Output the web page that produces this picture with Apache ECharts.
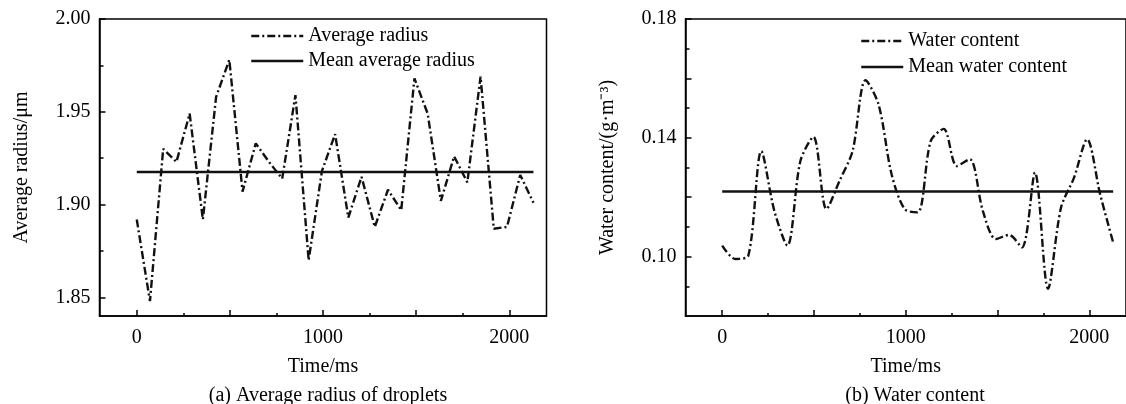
<!DOCTYPE html>
<html>
<head>
<meta charset="utf-8">
<script src="https://cdn.jsdelivr.net/npm/echarts@6/dist/echarts.min.js"></script>
<style>
  html, body { margin: 0; padding: 0; background: #fff; }
  #chart { width: 1126px; height: 404px; }
</style>
</head>
<body>
<div id="chart"></div>
<script>
  // sample times (ms), shared by both panels
  var timeMs = [0, 71, 142, 213, 284, 355, 426, 497, 568, 639, 710, 781, 852, 923, 994, 1065,
    1136, 1207, 1278, 1349, 1420, 1491, 1562, 1633, 1704, 1775, 1846, 1917, 1988, 2059, 2130];

  // (a) average radius, um
  var radius = [1.892, 1.848, 1.930, 1.923, 1.949, 1.892, 1.958, 1.978, 1.907, 1.933, 1.923, 1.914,
    1.959, 1.870, 1.918, 1.938, 1.893, 1.915, 1.888, 1.908, 1.897, 1.968, 1.949, 1.902, 1.926,
    1.912, 1.969, 1.887, 1.888, 1.916, 1.901];
  var meanRadius = 1.9176;

  // (b) water content, g/m3
  var water = [0.1037, 0.0992, 0.1003, 0.1355, 0.1154, 0.1037, 0.1322, 0.1403, 0.1160, 0.1255,
    0.1355, 0.1594, 0.1512, 0.1277, 0.1160, 0.1149, 0.1389, 0.1430, 0.1305, 0.1328, 0.1154,
    0.1059, 0.1073, 0.1031, 0.1283, 0.0892, 0.1165, 0.1266, 0.1395, 0.1210, 0.1048];
  var meanWater = 0.1219;
  var meanSpan = [0, 2130];

  // tick labels
  var xLabels = ['0', '1000', '2000'];
  var xMajorTicks = [0, 500, 1000, 1500, 2000];
  var xMinorTicks = [250, 750, 1250, 1750];
  var yLabelsA = ['1.85', '1.90', '1.95', '2.00'];
  var yMinorA = [1.875, 1.925, 1.975];
  var yLabelsB = ['0.10', '0.14', '0.18'];
  var yMajorB = [0.10, 0.12, 0.14, 0.16, 0.18];
  var yMinorB = [0.09, 0.11, 0.13, 0.15, 0.17];

  var FONT = 'Liberation Serif';
  var txt = { fontFamily: FONT, fontSize: 20, color: '#000' };

  function pairs(xs, ys) {
    return xs.map(function (x, i) { return [x, ys[i]]; });
  }
  function flat(y) {
    return meanSpan.map(function (x) { return [x, y]; });
  }

  function mainX(g) {
    return {
      type: 'value', gridIndex: g, position: 'bottom', min: -200, max: 2200,
      name: 'Time/ms', nameLocation: 'middle', nameGap: 41, nameTextStyle: txt,
      axisLine: { show: true, onZero: false, lineStyle: { color: '#000', width: 1.5 } },
      axisTick: { show: true, inside: true, length: 6, customValues: xMajorTicks, lineStyle: { color: '#000', width: 1.5 } },
      axisLabel: {
        customValues: xLabels.map(Number), margin: 12, fontFamily: FONT, fontSize: 20, color: '#000',
        formatter: function (v) { return String(v); }
      },
      splitLine: { show: false }
    };
  }
  function minorX(g) {
    return {
      type: 'value', gridIndex: g, position: 'bottom', min: -200, max: 2200,
      axisLine: { show: false, onZero: false },
      axisTick: { show: true, inside: true, length: 3, customValues: xMinorTicks, lineStyle: { color: '#000', width: 1.5 } },
      axisLabel: { show: false },
      splitLine: { show: false }
    };
  }
  function mainY(g, min, max, labels, ticks, name) {
    return {
      type: 'value', gridIndex: g, position: 'left', min: min, max: max,
      name: name, nameLocation: 'middle', nameGap: 68, nameTextStyle: txt,
      axisLine: { show: true, onZero: false, lineStyle: { color: '#000', width: 1.5 } },
      axisTick: { show: true, inside: true, length: 6, customValues: ticks, lineStyle: { color: '#000', width: 1.5 } },
      axisLabel: {
        customValues: labels.map(Number), margin: 9, fontFamily: FONT, fontSize: 20, color: '#000',
        formatter: function (v) { return v.toFixed(2); }
      },
      splitLine: { show: false }
    };
  }
  function minorY(g, min, max, ticks) {
    return {
      type: 'value', gridIndex: g, position: 'left', min: min, max: max,
      axisLine: { show: false, onZero: false },
      axisTick: { show: true, inside: true, length: 4, customValues: ticks, lineStyle: { color: '#000', width: 1.5 } },
      axisLabel: { show: false },
      splitLine: { show: false }
    };
  }

  var dashDot = { color: '#111', width: 2.4, type: [8, 3, 2, 3] };
  var solid = { color: '#111', width: 2.5, type: 'solid' };

  var chart = echarts.init(document.getElementById('chart'));
  chart.setOption({
    animation: false,
    backgroundColor: '#fff',
    title: [
      { text: '(a) Average radius of droplets', left: 323, top: 381, textAlign: 'center',
        textStyle: { fontFamily: FONT, fontSize: 20, fontWeight: 'normal', color: '#000' } },
      { text: '(b) Water content', left: 910, top: 381, textAlign: 'center',
        textStyle: { fontFamily: FONT, fontSize: 20, fontWeight: 'normal', color: '#000' } }
    ],
    legend: [
      { orient: 'vertical', left: 245, top: 21, itemWidth: 52, itemHeight: 20, itemGap: 5,
        itemStyle: { opacity: 0 }, lineStyle: { width: 2.5 },
        data: ['Average radius', 'Mean average radius'], textStyle: txt },
      { orient: 'vertical', left: 855, top: 26, itemWidth: 42, itemHeight: 20, itemGap: 6,
        itemStyle: { opacity: 0 }, lineStyle: { width: 2.5 },
        data: ['Water content', 'Mean water content'], textStyle: txt }
    ],
    grid: [
      { left: 99.5, right: 579.5, top: 19, bottom: 88, show: true, borderColor: '#000', borderWidth: 1.5 },
      { left: 685.5, right: -8, top: 19, bottom: 88, show: true, borderColor: '#000', borderWidth: 1.5 }
    ],
    xAxis: [mainX(0), minorX(0), mainX(1), minorX(1)],
    yAxis: [
      mainY(0, 1.84, 2.00, yLabelsA, yLabelsA.map(Number), 'Average radius/\u03bcm'),
      minorY(0, 1.84, 2.00, yMinorA),
      mainY(1, 0.08, 0.18, yLabelsB, yMajorB, 'Water content/(g\u00b7m\u207b\u00b3)'),
      minorY(1, 0.08, 0.18, yMinorB)
    ],
    series: [
      { name: 'Average radius', type: 'line', xAxisIndex: 0, yAxisIndex: 0, symbol: 'none',
        data: pairs(timeMs, radius), lineStyle: dashDot, itemStyle: { color: '#111' } },
      { name: 'Mean average radius', type: 'line', xAxisIndex: 0, yAxisIndex: 0, symbol: 'none',
        data: flat(meanRadius), lineStyle: solid, itemStyle: { color: '#111' } },
      { name: 'Water content', type: 'line', xAxisIndex: 2, yAxisIndex: 2, symbol: 'none', smooth: 0.3,
        data: pairs(timeMs, water), lineStyle: dashDot, itemStyle: { color: '#111' } },
      { name: 'Mean water content', type: 'line', xAxisIndex: 2, yAxisIndex: 2, symbol: 'none',
        data: flat(meanWater), lineStyle: solid, itemStyle: { color: '#111' } }
    ]
  });
</script>
</body>
</html>
